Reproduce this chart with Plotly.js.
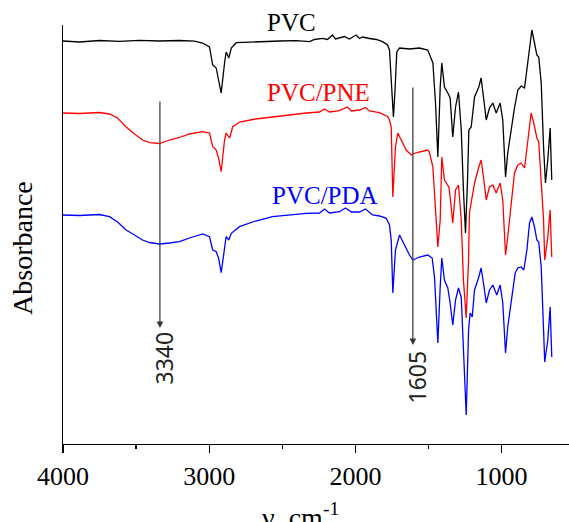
<!DOCTYPE html>
<html>
<head>
<meta charset="utf-8">
<script src="https://cdn.plot.ly/plotly-3.0.1.min.js"></script>
<style>html,body{margin:0;padding:0;background:#fff;}#chart{width:569px;height:522px;}</style>
</head>
<body>
<div id="chart"></div>
<script>
// Wavenumber (cm-1) and absorbance (offset, a.u.)
const pvcWn = [4000,3887,3750,3614,3477,3340,3203,3101,3046,2998,2976,2952,2936,2918,2895,2884,2866,2849,2815,2724,2635,2519,2405,2314,2280,2225,2191,2157,2136,2109,2075,2041,1995,1972,1951,1904,1856,1815,1780,1767,1753,1740,1729,1717,1698,1630,1562,1505,1470,1452,1436,1420,1409,1391,1368,1352,1334,1315,1295,1276,1261,1247,1233,1224,1208,1185,1156,1140,1124,1105,1083,1060,1037,1010,992,973,958,934,912,889,866,843,827,809,793,775,759,746,729,713,700,684,668,657];
const pvcAbs = [4.03,4.02,4.035,4.027,4.037,4.03,4.035,4.028,4.01,3.97,3.79,3.76,3.64,3.51,3.81,3.92,3.86,3.96,4.013,4.02,4.023,4.03,4.033,4.023,4.045,4.057,4.045,4.09,4.05,4.06,4.075,4.05,4.09,4.055,4.07,4.055,4.045,4.023,3.99,3.94,3.54,3.27,3.54,3.92,3.96,3.95,3.96,3.94,3.81,3.41,2.87,3.57,3.81,3.57,3.51,3.46,3.07,3.37,3.52,3.14,2.54,2.11,2.64,3.14,3.17,3.47,3.57,3.66,3.47,3.24,3.36,3.41,3.31,3.41,3.24,2.67,2.91,3.17,3.36,3.54,3.58,3.56,3.74,3.97,4.14,4.01,3.89,3.87,3.61,2.97,2.61,2.84,3.16,2.64];

const pneWn = [4000,3887,3750,3682,3627,3568,3511,3456,3408,3340,3272,3203,3135,3046,2998,2976,2952,2936,2918,2895,2884,2861,2839,2793,2683,2567,2451,2336,2246,2211,2177,2109,2054,2027,1972,1931,1904,1835,1778,1767,1755,1744,1726,1710,1687,1653,1618,1607,1562,1505,1494,1470,1452,1436,1420,1409,1391,1361,1352,1334,1315,1295,1276,1261,1242,1226,1220,1208,1185,1156,1140,1124,1105,1083,1060,1037,1010,992,973,958,934,912,889,866,843,827,809,798,780,759,746,729,713,705,684,668,657];
const pneAbs = [3.31,3.305,3.315,3.30,3.26,3.17,3.10,3.04,3.013,3.005,3.04,3.065,3.10,3.123,3.11,2.973,2.94,2.86,2.723,3.04,3.11,3.06,3.173,3.22,3.25,3.273,3.29,3.31,3.32,3.35,3.32,3.333,3.37,3.33,3.34,3.365,3.33,3.313,3.273,3.24,3.17,2.47,2.97,3.11,3.04,2.94,2.89,2.90,2.92,2.94,2.92,2.77,2.34,1.97,2.24,2.87,2.64,2.57,2.47,2.21,2.54,2.59,2.24,1.64,1.26,1.84,2.31,2.41,2.61,2.77,2.84,2.67,2.44,2.57,2.59,2.51,2.61,2.44,1.89,2.07,2.41,2.71,2.79,2.81,2.76,2.97,3.21,3.31,3.21,3.06,3.02,2.67,2.24,1.84,2.07,2.34,1.87];

const pdaWn = [4000,3887,3750,3682,3627,3568,3511,3456,3408,3340,3272,3203,3135,3044,2998,2976,2952,2936,2918,2895,2884,2866,2849,2793,2683,2567,2451,2336,2246,2211,2177,2109,2068,2027,1972,1931,1883,1835,1789,1767,1755,1744,1726,1698,1664,1630,1607,1562,1505,1475,1459,1447,1436,1420,1409,1391,1368,1352,1334,1315,1295,1276,1265,1242,1226,1215,1201,1185,1156,1140,1124,1105,1083,1060,1033,1010,992,973,958,934,907,889,866,848,827,809,793,775,759,746,729,713,705,684,668,657];
const pdaAbs = [2.29,2.285,2.295,2.273,2.22,2.14,2.09,2.04,2.015,2.00,2.01,2.023,2.06,2.10,2.073,1.94,1.923,1.86,1.713,1.973,2.073,2.04,2.107,2.173,2.23,2.273,2.29,2.307,2.31,2.35,2.31,2.323,2.36,2.32,2.32,2.35,2.29,2.28,2.257,2.19,2.04,1.51,1.94,2.09,1.99,1.89,1.84,1.87,1.89,1.86,1.67,1.34,1.01,1.57,1.86,1.64,1.56,1.41,1.19,1.44,1.56,1.47,1.04,0.29,1.14,1.31,1.27,1.54,1.67,1.76,1.61,1.41,1.54,1.59,1.49,1.59,1.41,0.91,1.17,1.41,1.71,1.76,1.77,1.74,1.94,2.21,2.27,2.17,2.04,2.02,1.77,1.14,0.82,1.04,1.37,0.87];

const seriesNames = ["PVC", "PVC/PNE", "PVC/PDA"];
const seriesColors = ["#000000", "#ff0000", "#0000ff"];
const bandLabels = ["3340", "1605"];
const bandWn = [3337, 1607];
const tickVals = [4000, 3000, 2000, 1000];

const serif = "Liberation Serif";
const traces = [
  {x: pvcWn, y: pvcAbs},
  {x: pneWn, y: pneAbs},
  {x: pdaWn, y: pdaAbs}
].map((t, i) => ({
  x: t.x, y: t.y, type: "scatter", mode: "lines", name: seriesNames[i],
  line: {color: seriesColors[i], width: 1.3}, hoverinfo: "skip"
}));

const annotations = [
  {x: 2437, y: 1.007, yref: "paper", text: "PVC", color: seriesColors[0]},
  {x: 2252, y: 3.52, yref: "y", text: "PVC/PNE", color: seriesColors[1]},
  {x: 2211, y: 2.49, yref: "y", text: "PVC/PDA", color: seriesColors[2]}
].map(a => ({x: a.x, y: a.y, xref: "x", yref: a.yref, text: a.text, showarrow: false,
  font: {family: serif, size: 25, color: a.color}, xanchor: "center", yanchor: "middle"}));

// band arrows
const arrowTop = [3.44, 3.58], arrowHead = [1.16, 0.99];
bandWn.forEach((w, i) => {
  annotations.push({x: w, y: arrowHead[i], ax: w, ay: arrowTop[i], xref: "x", yref: "y",
    axref: "x", ayref: "y", text: "", showarrow: true, arrowhead: 2, arrowsize: 1.1,
    arrowwidth: 1.2, arrowcolor: "#333"});
});
const labelPos = [[3306, 0.86], [1582, 0.67]];
bandLabels.forEach((t, i) => {
  annotations.push({x: labelPos[i][0], y: labelPos[i][1], xref: "x", yref: "y", text: t,
    showarrow: false, textangle: -90, font: {family: "Noto Sans", size: 23, color: "#222"},
    xanchor: "center", yanchor: "middle"});
});
// axis titles
annotations.push({x: 0.47, y: -0.125, xref: "paper", yref: "paper", text: "ν, cm<sup>-1</sup>",
  showarrow: false, font: {family: serif, size: 28, color: "#000"}, xanchor: "center", yanchor: "top"});
annotations.push({x: -0.079, y: 0.468, xref: "paper", yref: "paper", text: "Absorbance",
  showarrow: false, textangle: -90, font: {family: serif, size: 28, color: "#000"}, xanchor: "center", yanchor: "middle"});

const layout = {
  width: 569, height: 522,
  margin: {l: 63, r: 0, t: 25, b: 78},
  paper_bgcolor: "#fff", plot_bgcolor: "#fff",
  showlegend: false,
  font: {family: serif},
  xaxis: {
    range: [4000, 539], showgrid: false, zeroline: false,
    showline: true, linecolor: "#000", linewidth: 1.3,
    ticks: "outside", ticklen: 8, tickwidth: 1.3, tickcolor: "#000",
    tickvals: tickVals, ticktext: tickVals.map(String),
    tickfont: {family: serif, size: 26, color: "#000"},
    minor: {dtick: 500, tick0: 500, ticks: "outside", ticklen: 4, tickwidth: 1.3, tickcolor: "#000"}
  },
  yaxis: {
    range: [0, 4.19], showgrid: false, zeroline: false, showticklabels: false,
    showline: true, linecolor: "#000", linewidth: 1.3, ticks: ""
  },
  annotations: annotations
};
Plotly.newPlot("chart", traces, layout, {staticPlot: true, displayModeBar: false});
</script>
</body>
</html>
